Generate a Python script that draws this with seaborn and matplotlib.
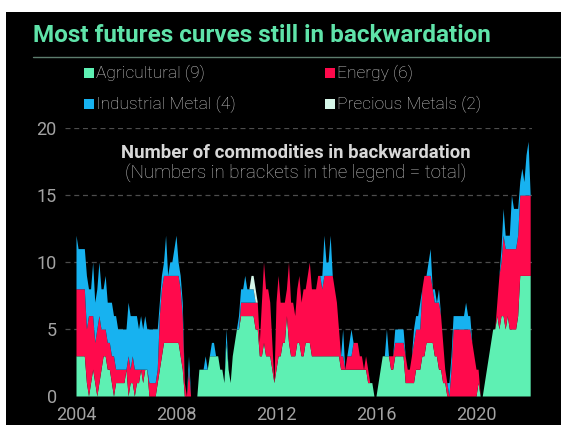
import numpy as np
import seaborn as sns
import matplotlib.pyplot as plt
from matplotlib.patches import Rectangle
from matplotlib.lines import Line2D

# monthly number of commodities in backwardation, Jan 2004 .. Mar 2022
agri = [
    3, 3, 3, 3, 3, 1, 0, 1, 2, 1, 0, 1,   # 2004
    2, 3, 3, 2, 2, 1, 0, 1, 1, 1, 1, 1,   # 2005
    2, 0, 1, 1, 0, 1, 1, 2, 1, 2, 2, 0,   # 2006
    0, 0, 0, 1, 2, 3, 4, 4, 4, 4, 4, 4,   # 2007
    4, 4, 3, 2, 0, 0, 0, 0, 0, 0, 0, 2,   # 2008
    2, 2, 2, 2, 3, 3, 3, 3, 3, 2, 2, 1,   # 2009
    4, 2, 1, 3, 4, 5, 5, 6, 6, 6, 6, 6,   # 2010
    6, 6, 5, 5, 3, 3, 4, 3, 3, 3, 2, 1,   # 2011
    2, 3, 3, 4, 4, 6, 4, 3, 3, 3, 4, 4,   # 2012
    3, 3, 4, 4, 4, 3, 3, 3, 3, 3, 3, 3,   # 2013
    3, 3, 3, 3, 3, 3, 3, 2, 2, 2, 2, 2,   # 2014
    2, 2, 2, 2, 2, 2, 2, 2, 1, 1, 1, 0,   # 2015
    0, 1, 2, 3, 3, 3, 3, 2, 2, 3, 3, 3,   # 2016
    3, 3, 1, 1, 1, 1, 1, 2, 2, 2, 3, 3,   # 2017
    4, 4, 4, 4, 3, 3, 2, 2, 1, 1, 0, 0,   # 2018
    0, 0, 0, 0, 0, 0, 0, 0, 0, 0, 0, 0,   # 2019
    0, 1, 0, 0, 1, 2, 3, 4, 5, 5, 6, 5,   # 2020
    6, 6, 5, 6, 5, 5, 5, 5, 6, 9, 9, 9,   # 2021
    9, 9, 9,                              # 2022
]
energy = [
    5, 5, 5, 5, 5, 4, 6, 5, 4, 3, 5, 5,
    3, 2, 2, 2, 2, 2, 3, 1, 1, 1, 1, 1,
    0, 3, 1, 2, 2, 1, 1, 0, 1, 0, 0, 1,
    1, 1, 1, 1, 4, 5, 5, 5, 5, 5, 5, 5,
    5, 5, 5, 4, 1, 0, 2, 0, 0, 0, 0, 0,
    0, 0, 0, 0, 0, 0, 0, 0, 0, 0, 0, 0,
    0, 0, 0, 0, 0, 0, 0, 1, 1, 1, 1, 1,
    1, 1, 2, 2, 1, 4, 6, 5, 5, 4, 2, 0,
    5, 6, 4, 3, 3, 2, 6, 4, 4, 3, 4, 5,
    4, 5, 4, 5, 6, 5, 5, 5, 6, 6, 5, 6,
    6, 6, 6, 6, 5, 4, 2, 1, 1, 0, 1, 1,
    1, 2, 2, 2, 1, 1, 0, 1, 1, 0, 0, 0,
    0, 0, 0, 0, 0, 0, 0, 1, 1, 1, 1, 1,
    1, 1, 2, 1, 1, 2, 3, 3, 3, 3, 5, 6,
    5, 5, 5, 4, 4, 4, 5, 4, 3, 1, 1, 0,
    2, 5, 5, 5, 5, 5, 5, 5, 5, 5, 4, 3,
    2, 1, 0, 0, 0, 0, 0, 0, 0, 0, 1, 4,
    4, 6, 6, 5, 6, 6, 6, 6, 6, 6, 6, 6,
    6, 6, 6,
]
ind_metal = [
    4, 3, 3, 3, 3, 4, 2, 2, 4, 3, 3, 4,
    3, 3, 4, 3, 3, 4, 3, 4, 3, 3, 3, 3,
    3, 4, 4, 3, 4, 4, 3, 4, 3, 4, 3, 4,
    4, 4, 4, 3, 1, 1, 1, 3, 0, 1, 1, 2,
    3, 1, 1, 1, 0, 0, 1, 0, 0, 0, 0, 0,
    0, 0, 1, 0, 0, 1, 1, 0, 0, 0, 0, 0,
    1, 0, 0, 0, 0, 0, 1, 1, 1, 2, 1, 1,
    1, 1, 0, 0, 0, 0, 0, 0, 0, 0, 0, 0,
    0, 0, 0, 0, 0, 0, 0, 0, 0, 0, 0, 0,
    0, 0, 0, 0, 0, 0, 0, 0, 0, 0, 1, 3,
    1, 1, 3, 0, 0, 0, 0, 0, 2, 0, 0, 1,
    2, 0, 0, 0, 0, 0, 0, 0, 0, 0, 0, 0,
    0, 0, 0, 0, 0, 2, 0, 0, 0, 1, 1, 1,
    1, 1, 0, 0, 0, 0, 1, 1, 1, 2, 0, 0,
    0, 1, 2, 0, 1, 0, 1, 0, 0, 0, 0, 1,
    1, 1, 1, 1, 1, 1, 1, 2, 1, 1, 0, 0,
    0, 0, 0, 0, 0, 0, 0, 0, 0, 0, 0, 0,
    1, 2, 1, 1, 1, 4, 3, 3, 2, 1, 2, 1,
    3, 4, 0,
]
precious = [0] * 84 + [1, 1, 1] + [0] * 132

labels = ["Agricultural (9)", "Energy (6)", "Industrial Metal (4)", "Precious Metals (2)"]
colors = ["#5ef0b3", "#ff0a4c", "#17b2f0", "#d6f7e9"]
year_ticks = [2004, 2008, 2012, 2016, 2020]

W, H = 561, 425
years = 2004 + np.arange(len(agri)) / 12

sns.set_theme(style="dark", rc={
    "axes.facecolor": "black",
    "figure.facecolor": "white",
})
plt.rcParams["font.family"] = ["Roboto", "DejaVu Sans"]

fig = plt.figure(figsize=(W / 100, H / 100), dpi=100)
# black panel (white strip left and top like the screenshot)
fig.patches.append(Rectangle((6 / W, 0), 1, 1 - 12 / H, transform=fig.transFigure,
                             facecolor="black", edgecolor="none", zorder=-10))

ax = fig.add_axes([65 / W, 29 / H, (532 - 65) / W, (396 - 128) / H])
ax.set_facecolor("black")
ax.stackplot(years, agri, energy, ind_metal, precious, colors=colors,
             linewidth=0, zorder=2)

ax.set_xlim(2003.56, 2022.24)
ax.set_ylim(0, 20)
ax.set_yticks([0, 5, 10, 15, 20])
ax.set_xticks(year_ticks)
ax.grid(False)
for v in [5, 10, 15, 20]:
    ax.axhline(v, color="#4d4d4d", lw=0.9, ls=(0, (4, 3)), zorder=1)
ax.tick_params(axis="both", length=0, labelsize=13, labelcolor="#a3a3a3")
ax.tick_params(axis="y", pad=6)
ax.tick_params(axis="x", pad=7)
sns.despine(ax=ax, left=True, bottom=True)

ax.text(0.494, 1 - 25 / 268, "Number of commodities in backwardation",
        transform=ax.transAxes, ha="center", va="center",
        fontsize=13.3, fontweight="bold", color="#d8d8d8")
ax.text(0.494, 1 - 46 / 268, "(Numbers in brackets in the legend = total)",
        transform=ax.transAxes, ha="center", va="center",
        fontsize=13.5, fontweight="light", color="#c0c0c0")

# title and rule
fig.text(33 / W, 1 - 36 / H, "Most futures curves still in backwardation",
         ha="left", va="center", fontsize=17.5, fontweight="bold", color="#5fe3a9")
fig.add_artist(Line2D([33 / W, 1], [1 - 57 / H, 1 - 57 / H], transform=fig.transFigure,
                      color="#5d7d6e", lw=1))

# legend, two columns
pos = [(84, 73), (325, 73), (84, 104), (325, 104)]
for (px, py), lab, col in zip(pos, labels, colors):
    fig.patches.append(Rectangle((px / W, 1 - (py + 5) / H), 10 / W, 10 / H,
                                 transform=fig.transFigure, facecolor=col,
                                 edgecolor="none", zorder=3))
    fig.text((px + 12) / W, 1 - py / H, lab, ha="left", va="center",
             fontsize=12.5, fontweight="light", color="#cfcfcf")

fig.savefig("out.png", dpi=100, facecolor="white")
